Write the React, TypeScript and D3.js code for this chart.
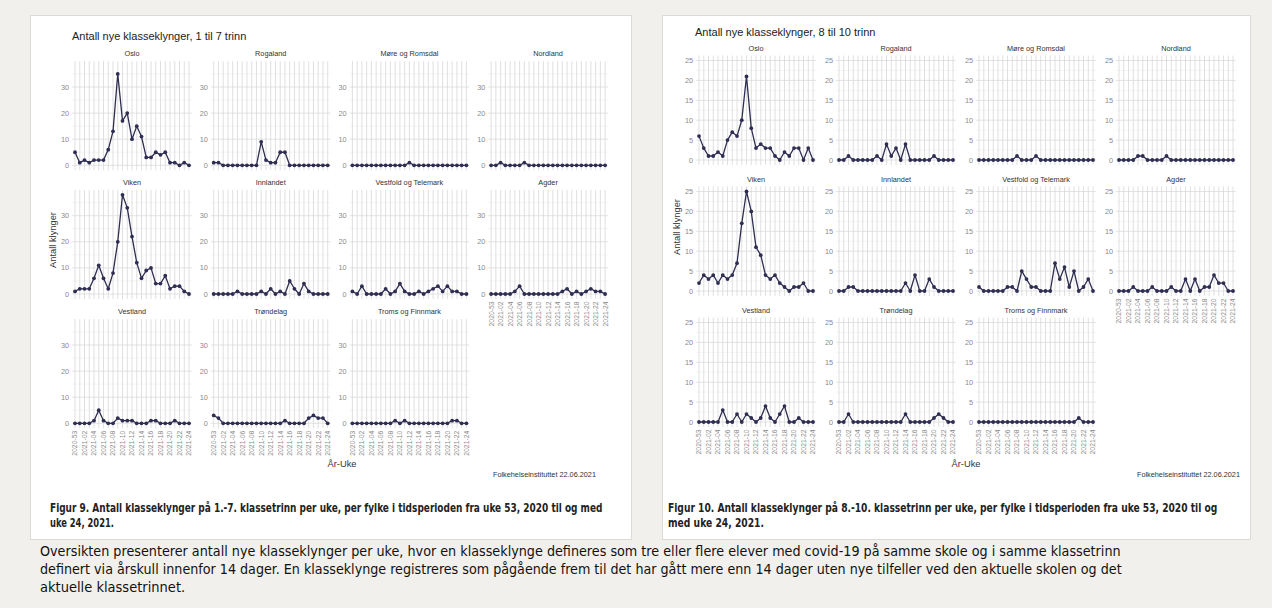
import React, { useLayoutEffect, useRef, useState } from 'react';
import * as d3 from 'd3';

// ---------- DATA ----------
const WEEKS = [
  '2020-53', '2021-01', '2021-02', '2021-03', '2021-04', '2021-05', '2021-06', '2021-07', '2021-08',
  '2021-09', '2021-10', '2021-11', '2021-12', '2021-13', '2021-14', '2021-15', '2021-16', '2021-17',
  '2021-18', '2021-19', '2021-20', '2021-21', '2021-22', '2021-23', '2021-24',
];
const WEEK_LABELS = [
  '2020-53', '2021-02', '2021-04', '2021-06', '2021-08', '2021-10', '2021-12',
  '2021-14', '2021-16', '2021-18', '2021-20', '2021-22', '2021-24',
];
const FYLKER = [
  'Oslo', 'Rogaland', 'Møre og Romsdal', 'Nordland',
  'Viken', 'Innlandet', 'Vestfold og Telemark', 'Agder',
  'Vestland', 'Trøndelag', 'Troms og Finnmark',
];

// 1.-7. trinn
const t17_oslo = [5, 1, 2, 1, 2, 2, 2, 6, 13, 35, 17, 20, 10, 15, 11, 3, 3, 5, 4, 5, 1, 1, 0, 1, 0];
const t17_rogaland = [1, 1, 0, 0, 0, 0, 0, 0, 0, 0, 9, 2, 1, 1, 5, 5, 0, 0, 0, 0, 0, 0, 0, 0, 0];
const t17_more = [0, 0, 0, 0, 0, 0, 0, 0, 0, 0, 0, 0, 1, 0, 0, 0, 0, 0, 0, 0, 0, 0, 0, 0, 0];
const t17_nordland = [0, 0, 1, 0, 0, 0, 0, 1, 0, 0, 0, 0, 0, 0, 0, 0, 0, 0, 0, 0, 0, 0, 0, 0, 0];
const t17_viken = [1, 2, 2, 2, 6, 11, 6, 2, 8, 20, 38, 33, 22, 12, 6, 9, 10, 4, 4, 7, 2, 3, 3, 1, 0];
const t17_innlandet = [0, 0, 0, 0, 0, 1, 0, 0, 0, 0, 1, 0, 2, 0, 1, 0, 5, 2, 0, 4, 1, 0, 0, 0, 0];
const t17_vestfold = [1, 0, 3, 0, 0, 0, 0, 2, 0, 1, 4, 1, 0, 0, 1, 0, 1, 2, 3, 1, 3, 1, 1, 0, 0];
const t17_agder = [0, 0, 0, 0, 0, 1, 3, 0, 0, 0, 0, 0, 0, 0, 0, 1, 2, 0, 1, 0, 1, 2, 1, 1, 0];
const t17_vestland = [0, 0, 0, 0, 1, 5, 1, 0, 0, 2, 1, 1, 1, 0, 0, 0, 1, 1, 0, 0, 0, 1, 0, 0, 0];
const t17_trondelag = [3, 2, 0, 0, 0, 0, 0, 0, 0, 0, 0, 0, 0, 0, 0, 1, 0, 0, 0, 0, 2, 3, 2, 2, 0];
const t17_troms = [0, 0, 0, 0, 0, 0, 0, 0, 0, 1, 0, 1, 0, 0, 0, 0, 0, 0, 0, 0, 0, 1, 1, 0, 0];

// 8.-10. trinn
const t810_oslo = [6, 3, 1, 1, 2, 1, 5, 7, 6, 10, 21, 8, 3, 4, 3, 3, 1, 0, 2, 1, 3, 3, 0, 3, 0];
const t810_rogaland = [0, 0, 1, 0, 0, 0, 0, 0, 1, 0, 4, 1, 3, 0, 4, 0, 0, 0, 0, 0, 1, 0, 0, 0, 0];
const t810_more = [0, 0, 0, 0, 0, 0, 0, 0, 1, 0, 0, 0, 1, 0, 0, 0, 0, 0, 0, 0, 0, 0, 0, 0, 0];
const t810_nordland = [0, 0, 0, 0, 1, 1, 0, 0, 0, 0, 1, 0, 0, 0, 0, 0, 0, 0, 0, 0, 0, 0, 0, 0, 0];
const t810_viken = [2, 4, 3, 4, 2, 4, 3, 4, 7, 17, 25, 20, 11, 9, 4, 3, 4, 2, 1, 0, 1, 1, 2, 0, 0];
const t810_innlandet = [0, 0, 1, 1, 0, 0, 0, 0, 0, 0, 0, 0, 0, 0, 2, 0, 4, 0, 0, 3, 1, 0, 0, 0, 0];
const t810_vestfold = [1, 0, 0, 0, 0, 0, 1, 1, 0, 5, 3, 1, 1, 0, 0, 0, 7, 3, 6, 1, 5, 0, 1, 3, 0];
const t810_agder = [0, 0, 0, 1, 0, 0, 0, 1, 0, 0, 0, 1, 0, 0, 3, 0, 3, 0, 1, 1, 4, 2, 2, 0, 0];
const t810_vestland = [0, 0, 0, 0, 0, 3, 0, 0, 2, 0, 2, 1, 0, 1, 4, 1, 0, 2, 4, 0, 0, 1, 0, 0, 0];
const t810_trondelag = [0, 0, 2, 0, 0, 0, 0, 0, 0, 0, 0, 0, 0, 0, 2, 0, 0, 0, 0, 0, 1, 2, 1, 0, 0];
const t810_troms = [0, 0, 0, 0, 0, 0, 0, 0, 0, 0, 0, 0, 0, 0, 0, 0, 0, 0, 0, 0, 0, 1, 0, 0, 0];

const SERIES_17 = [t17_oslo, t17_rogaland, t17_more, t17_nordland, t17_viken, t17_innlandet,
  t17_vestfold, t17_agder, t17_vestland, t17_trondelag, t17_troms];
const SERIES_810 = [t810_oslo, t810_rogaland, t810_more, t810_nordland, t810_viken, t810_innlandet,
  t810_vestfold, t810_agder, t810_vestland, t810_trondelag, t810_troms];

const TITLE_17 = 'Antall nye klasseklynger, 1 til 7 trinn';
const TITLE_810 = 'Antall nye klasseklynger, 8 til 10 trinn';
const Y_TITLE = 'Antall klynger';
const X_TITLE = 'År-Uke';
const SOURCE = 'Folkehelseinstituttet 22.06.2021';
const TICKS_17 = [0, 10, 20, 30];
const MINOR_17 = [5, 15, 25, 35];
const TICKS_810 = [0, 5, 10, 15, 20, 25];
const MINOR_810 = [2.5, 7.5, 12.5, 17.5, 22.5];

const CAP9 = ['Figur 9. Antall klasseklynger på 1.-7. klassetrinn per uke, per fylke i tidsperioden fra uke 53, 2020 til og med', 'uke 24, 2021.'];
const CAP10 = ['Figur 10. Antall klasseklynger på 8.-10. klassetrinn per uke, per fylke i tidsperioden fra uke 53, 2020 til og', 'med uke 24, 2021.'];
const PARA = [
  'Oversikten presenterer antall nye klasseklynger per uke, hvor en klasseklynge defineres som tre eller flere elever med covid-19 på samme skole og i samme klassetrinn',
  'definert via årskull innenfor 14 dager. En klasseklynge registreres som pågående frem til det har gått mere enn 14 dager uten nye tilfeller ved den aktuelle skolen og det',
  'aktuelle klassetrinnet.',
];

// ---------- STYLE / LAYOUT ----------
const SANS = '"Liberation Sans", Arial, sans-serif';
const NARROW = '"Liberation Sans Narrow", "DejaVu Sans Condensed", "Liberation Sans", sans-serif';
const LINE = '#2e2d52';

interface FacetCfg {
  colX: number[];
  span: number;
  rowZero: number[];
  ppu: number;
  yLo: number;
  yHi: number;
  ticks: number[];
  minor: number[];
  title: string;
  titleX: number;
  titleY: number;
  yTitleX: number;
  yTitleY: number;
  xTitleX: number;
  xTitleY: number;
  srcX: number;
  srcY: number;
  series: number[][];
}

function Facets({ cfg }: { cfg: FacetCfg }) {
  const items: React.ReactNode[] = [];
  FYLKER.forEach((name, i) => {
    const col = i % 4;
    const row = Math.floor(i / 4);
    const x = d3.scalePoint<string>().domain(WEEKS).range([cfg.colX[col], cfg.colX[col] + cfg.span]);
    const step = x.step();
    const zero = cfg.rowZero[row];
    const y = d3.scaleLinear().domain([0, 1]).range([zero, zero - cfg.ppu]);
    const left = cfg.colX[col] - 0.6 * step;
    const right = cfg.colX[col] + cfg.span + 0.6 * step;
    const top = y(cfg.yHi);
    const bottom = y(cfg.yLo);
    const vals = cfg.series[i];
    const line = d3.line<number>().x((_, k) => x(WEEKS[k])!).y((v) => y(v));
    const showX = row === 2 || (row === 1 && col === 3);
    items.push(
      <g key={name}>
        {cfg.minor.map((t) => (
          <line key={'m' + t} x1={left} x2={right} y1={y(t)} y2={y(t)} stroke="#efefef" strokeWidth={0.6} />
        ))}
        {cfg.ticks.map((t) => (
          <line key={'t' + t} x1={left} x2={right} y1={y(t)} y2={y(t)} stroke="#dcdcdc" strokeWidth={0.8} />
        ))}
        {WEEKS.map((w) => (
          <line key={w} x1={x(w)} x2={x(w)} y1={top} y2={bottom} stroke="#d8d8d8" strokeWidth={0.8} />
        ))}
        {cfg.ticks.map((t) => (
          <text key={'l' + t} x={left - 3} y={y(t)} dy="0.35em" textAnchor="end" fontSize={7.3}
            fill="#8a8a8a" fontFamily={SANS}>{t}</text>
        ))}
        <text x={(left + right) / 2} y={top - 5} textAnchor="middle" fontSize={7.3} fill="#333"
          fontFamily={SANS}>{name}</text>
        <path d={line(vals)!} fill="none" stroke={LINE} strokeWidth={1.3} strokeLinejoin="round" />
        {vals.map((v, k) => (
          <circle key={k} cx={x(WEEKS[k])} cy={y(v)} r={1.9} fill={LINE} />
        ))}
        {showX && WEEK_LABELS.map((w) => (
          <text key={'x' + w} transform={`translate(${x(w)! + 2.4},${bottom + 2.5}) rotate(-90)`}
            textAnchor="end" fontSize={6.8} fill="#8a8a8a" fontFamily={SANS}>{w}</text>
        ))}
      </g>
    );
  });
  return (
    <g>
      <text x={cfg.titleX} y={cfg.titleY} fontSize={11} fill="#222" fontFamily={SANS}>{cfg.title}</text>
      {items}
      <text transform={`translate(${cfg.yTitleX},${cfg.yTitleY}) rotate(-90)`} textAnchor="middle"
        fontSize={9.3} fill="#333" fontFamily={SANS}>{Y_TITLE}</text>
      <text x={cfg.xTitleX} y={cfg.xTitleY} textAnchor="middle" fontSize={9.3} fill="#333"
        fontFamily={SANS}>{X_TITLE}</text>
      <text x={cfg.srcX} y={cfg.srcY} textAnchor="end" fontSize={7.3} fill="#333"
        fontFamily={SANS}>{SOURCE}</text>
    </g>
  );
}

const CFG_17: FacetCfg = {
  colX: [75, 213.7, 352.4, 491.1],
  span: 114,
  rowZero: [165.3, 294, 423.3],
  ppu: 2.61,
  yLo: -1.9,
  yHi: 39.9,
  ticks: TICKS_17,
  minor: MINOR_17,
  title: TITLE_17,
  titleX: 72,
  titleY: 40,
  yTitleX: 56,
  yTitleY: 240,
  xTitleX: 342,
  xTitleY: 467,
  srcX: 596,
  srcY: 477,
  series: SERIES_17,
};

const CFG_810: FacetCfg = {
  colX: [699, 839, 979, 1119],
  span: 114,
  rowZero: [160, 291, 422],
  ppu: 3.98,
  yLo: -1.25,
  yHi: 26.25,
  ticks: TICKS_810,
  minor: MINOR_810,
  title: TITLE_810,
  titleX: 695,
  titleY: 35.5,
  yTitleX: 680,
  yTitleY: 227,
  xTitleX: 966,
  xTitleY: 467,
  srcX: 1240,
  srcY: 477,
  series: SERIES_810,
};

// Text squeezed horizontally to a target width (the reference uses a condensed font)
function FitText({ text, x, y, width, size, bold, color }:
  { text: string; x: number; y: number; width: number; size: number; bold?: boolean; color: string }) {
  const ref = useRef<SVGTextElement>(null);
  const [k, setK] = useState(0.8);
  useLayoutEffect(() => {
    if (ref.current) {
      const w = ref.current.getComputedTextLength();
      if (w > 0) setK(width / w);
    }
  }, [text, width, size]);
  return (
    <g transform={`translate(${x},${y}) scale(${k},1)`}>
      <text ref={ref} x={0} y={0} fontSize={size} fontWeight={bold ? 'bold' : 'normal'}
        fill={color} fontFamily={NARROW}>{text}</text>
    </g>
  );
}

function Caption({ lines, x, y0, lh, size, widths, bold, color }:
  { lines: string[]; x: number; y0: number; lh: number; size: number; widths: number[]; bold?: boolean; color: string }) {
  return (
    <g>
      {lines.map((l, i) => (
        <FitText key={i} text={l} x={x} y={y0 + i * lh} width={widths[i]} size={size} bold={bold} color={color} />
      ))}
    </g>
  );
}

export default function App() {
  return (
    <svg width={1272} height={608} style={{ position: 'absolute', left: 0, top: 0 }}>
      <rect x={0} y={0} width={1272} height={608} fill="#f1f0ec" />
      <rect x={30.5} y={15.5} width={601} height={524} fill="#fff" stroke="#dcdbd6" />
      <rect x={662.5} y={15.5} width={588} height={524} fill="#fff" stroke="#dcdbd6" />
      <Facets cfg={CFG_17} />
      <Facets cfg={CFG_810} />
      <Caption lines={CAP9} x={50} y0={512} lh={14.5} size={11.5} widths={[553, 64]} bold color="#222" />
      <Caption lines={CAP10} x={668} y0={512} lh={14.5} size={11.5} widths={[550, 96]} bold color="#222" />
      <Caption lines={PARA} x={40} y0={555.5} lh={18} size={14} widths={[1080, 1081, 145]} color="#111" />
    </svg>
  );
}
